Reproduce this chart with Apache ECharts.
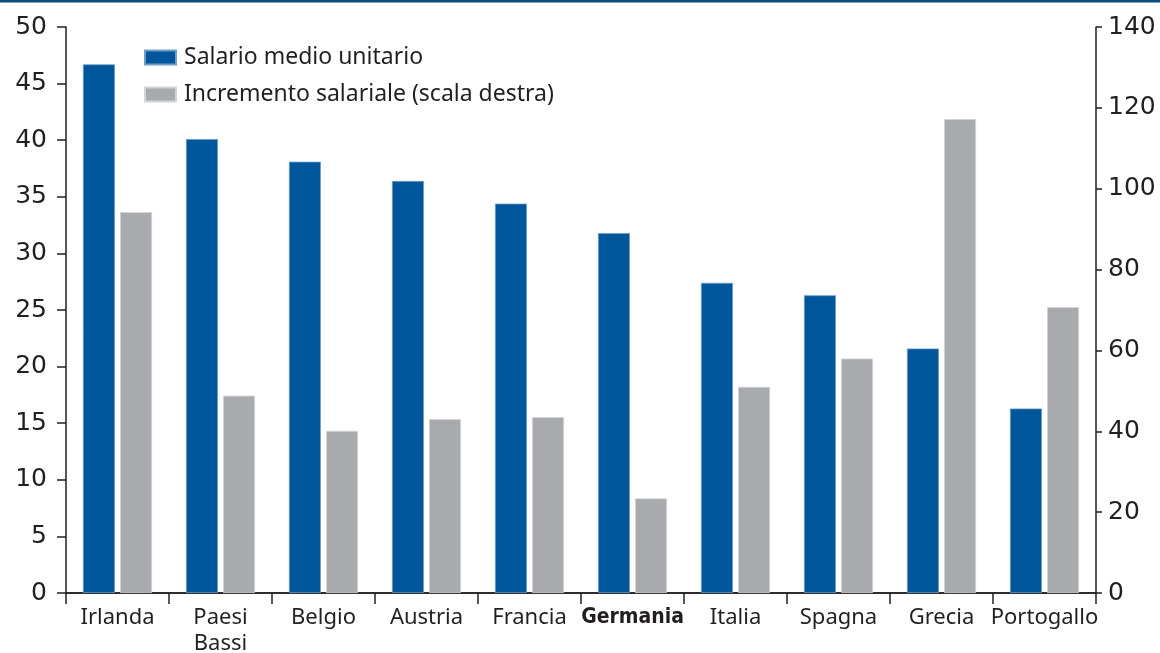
<!DOCTYPE html>
<html>
<head>
<meta charset="utf-8">
<script src="https://cdn.jsdelivr.net/npm/echarts@6/dist/echarts.min.js"></script>
<style>
  html, body { margin: 0; padding: 0; background: #fff; }
  #chart { width: 1160px; height: 653px; }
</style>
</head>
<body>
<div id="chart"></div>
<script>
// Paesi dell'area euro
const categories = ['Irlanda', 'Paesi\nBassi', 'Belgio', 'Austria', 'Francia', 'Germania', 'Italia', 'Spagna', 'Grecia', 'Portogallo'];
// Salario medio unitario (scala sinistra)
const salarioMedio = [46.7, 40.1, 38.1, 36.4, 34.4, 31.8, 27.4, 26.3, 21.6, 16.3];
// Incremento salariale (scala destra)
const incrementoSalariale = [94.2, 48.8, 40.1, 43.0, 43.5, 23.4, 51.0, 58.0, 117.2, 70.7];
const leftTicks = { min: 0, max: 50, interval: 5 };
const rightTicks = { min: 0, max: 140, interval: 20 };

const FONT = '"Noto Sans", "Open Sans", sans-serif';
const NUM_FONT = '"DejaVu Sans", "Noto Sans", sans-serif';
const INK = '#231f20';
const BLUE = '#00569a';
const GREY = '#a9aaae';

const chart = echarts.init(document.getElementById('chart'), null, { renderer: 'canvas' });
chart.setOption({
  animation: false,
  backgroundColor: '#fff',
  textStyle: { fontFamily: FONT, color: INK },
  graphic: [{
    type: 'rect', left: 0, top: 0,
    shape: { width: 1160, height: 2.5 },
    style: { fill: '#0c4a7d' }
  }],
  grid: { left: 66, right: 64, top: 27, bottom: 60, containLabel: false, outerBoundsMode: 'none' },
  legend: {
    orient: 'vertical',
    left: 144, top: 46, padding: 0,
    itemWidth: 31, itemHeight: 14, itemGap: 14,
    icon: 'rect',
    textStyle: { fontFamily: FONT, fontSize: 23, color: INK, lineHeight: 22, padding: [0, 0, 0, 3] },
    data: ['Salario medio unitario', 'Incremento salariale (scala destra)']
  },
  xAxis: [{
    type: 'category',
    data: categories,
    axisLine: { lineStyle: { color: INK, width: 1.5 } },
    axisTick: { show: true, alignWithLabel: false, length: 11, lineStyle: { color: INK, width: 1.5 } },
    axisLabel: {
      interval: 0, margin: 12,
      fontFamily: FONT, fontSize: 22, color: INK, lineHeight: 26,
      formatter: v => v === 'Germania' ? '{b|' + v + '}' : v,
      rich: { b: { fontFamily: '"Liberation Sans Narrow", "DejaVu Sans Condensed", sans-serif', fontWeight: 'bold', fontSize: 21, color: INK } }
    }
  }, {
    type: 'category',
    position: 'top',
    data: categories,
    axisLine: { show: true, lineStyle: { color: INK, width: 1.5 } },
    axisTick: { show: false },
    axisLabel: { show: false }
  }],
  yAxis: [{
    type: 'value',
    position: 'left',
    min: leftTicks.min, max: leftTicks.max, interval: leftTicks.interval,
    axisLine: { show: true, lineStyle: { color: INK, width: 1.5 } },
    axisTick: { show: true, length: 9, lineStyle: { color: INK, width: 1.5 } },
    axisLabel: { margin: 19, fontFamily: NUM_FONT, fontSize: 25, color: INK },
    splitLine: { show: false }
  }, {
    type: 'value',
    position: 'right',
    min: rightTicks.min, max: rightTicks.max, interval: rightTicks.interval,
    axisLine: { show: true, lineStyle: { color: INK, width: 1.5 } },
    axisTick: { show: true, length: 6, lineStyle: { color: INK, width: 1.5 } },
    axisLabel: { margin: 12, fontFamily: NUM_FONT, fontSize: 25, color: INK },
    splitLine: { show: false }
  }],
  series: [{
    name: 'Salario medio unitario',
    type: 'bar',
    xAxisIndex: 0, yAxisIndex: 0,
    data: salarioMedio,
    barWidth: 32, barGap: '16%',
    itemStyle: { color: BLUE, borderColor: '#6f9cc8', borderWidth: 0.8 }
  }, {
    name: 'Incremento salariale (scala destra)',
    type: 'bar',
    xAxisIndex: 0, yAxisIndex: 1,
    data: incrementoSalariale,
    barWidth: 32,
    itemStyle: { color: GREY, borderColor: '#d3d4d6', borderWidth: 0.8 }
  }]
});
</script>
</body>
</html>
